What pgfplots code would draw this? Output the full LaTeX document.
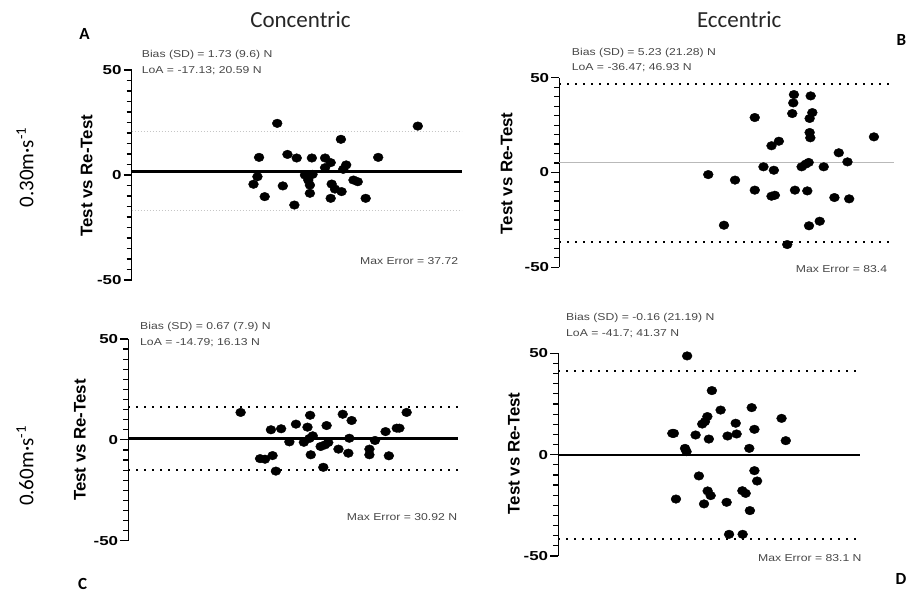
\documentclass[border=0pt]{standalone}
\usepackage{pgfplots}
\pgfplotsset{compat=1.18}
\usepackage{fontspec}
\setmainfont{Liberation Sans}
\newfontfamily\annotfam[FakeStretch=1.22]{Liberation Sans}
\newfontfamily\tickfam[FakeStretch=1.3]{Liberation Sans}
\newfontfamily\calfam{Carlito}
\newcommand{\annotfont}{\annotfam\fontsize{10bp}{12bp}\selectfont}
\newcommand{\tickfont}{\tickfam\bfseries\fontsize{13bp}{15bp}\selectfont}
\newcommand{\ylabfont}{\bfseries\fontsize{16.8bp}{19bp}\selectfont}
\newcommand{\headfont}{\calfam\fontsize{23bp}{26bp}\selectfont}
\newcommand{\rowfont}{\calfam\fontsize{21bp}{24bp}\selectfont}
\newcommand{\letfont}{\calfam\bfseries\fontsize{17bp}{19bp}\selectfont}

\pgfplotsset{
  bapanel/.style={
    scale only axis, clip=false,
    xmin=0, xmax=100, ymin=-50, ymax=50,
    axis x line=none, axis y line*=left,
    axis line style={line width=1.4bp, black, -},
    ytick={-50,0,50}, yticklabels={-50,0,50},
    minor ytick={-45,-40,...,45},
    tick align=outside,
    major tick length=8bp, minor tick length=5bp,
    every tick/.style={black, line width=1.2bp},
    yticklabel style={font=\tickfont, inner sep=2bp},
    /pgf/number format/assume math mode=true,
  },
  dots/.style={only marks, mark=*, mark size=4.3bp, mark options={fill=black, draw=black, xscale=1.15}},
  meanthick/.style={black, line width=2.6bp},
  meanthin/.style={gray!55, line width=1.3bp},
  loagray/.style={gray!45, line width=1bp, dash pattern=on 1bp off 2bp},
  loablack/.style={black, line width=2bp, dash pattern=on 2bp off 6bp},
}

\begin{document}
\begin{tikzpicture}
\path[use as bounding box] (0,0) rectangle (908bp,-594bp);

% Panel A
\begin{axis}[bapanel, at={(131.7bp,-280bp)}, anchor=south west, width=330bp, height=210bp]
\addplot[loagray] coordinates {(0,20.59) (100,20.59)};
\addplot[loagray] coordinates {(0,-17.13) (100,-17.13)};
\addplot[meanthick] coordinates {(0,1.73) (100,1.73)};
\addplot[dots] coordinates {
(44.1,24.6) (86.7,23.3) (63.4,17.0) (38.6,8.4) (47.2,9.8) (50.0,8.1)
(54.6,8.1) (58.6,8.1) (60.3,5.9) (58.6,3.5) (65.0,4.8) (64.1,2.7)
(74.7,8.4) (38.1,-0.8) (36.9,-4.4) (40.3,-10.3) (45.8,-5.2) (49.3,-14.3)
(52.5,0.0) (54.8,0.3) (54.0,-4.8) (54.0,-8.7) (60.6,-4.3) (61.6,-6.7)
(63.6,-7.9) (60.3,-11.1) (67.2,-2.4) (68.5,-3.2) (70.9,-11.1) (53.5,-2.4)
};
\end{axis}

% Panel B
\begin{axis}[bapanel, at={(559.3bp,-267.3bp)}, anchor=south west, width=334.7bp, height=189.6bp]
\addplot[loablack] coordinates {(0,46.93) (100,46.93)};
\addplot[loablack] coordinates {(0,-36.47) (100,-36.47)};
\addplot[meanthin] coordinates {(0,5.23) (100,5.23)};
\addplot[dots] coordinates {
(44.5,-1.1) (49.2,-27.8) (52.5,-4.0) (58.4,29.0) (58.4,-9.3) (61.0,3.0)
(63.4,14.1) (65.6,16.5) (64.1,1.2) (63.4,-12.5) (64.4,-12.0) (68.1,-38.0)
(70.1,41.1) (69.9,36.7) (69.6,31.1) (70.4,-9.3) (72.4,3.0) (73.6,4.4)
(74.5,5.3) (75.1,40.4) (75.6,31.6) (74.8,28.5) (74.8,21.1) (75.0,18.3)
(74.1,-9.7) (74.6,-28.1) (77.8,-25.7) (79.0,3.0) (82.2,-13.2) (83.5,10.4)
(86.1,5.6) (86.6,-13.9) (94.0,18.8)
};
\end{axis}

% Panel C
\begin{axis}[bapanel, at={(128.3bp,-540.7bp)}, anchor=south west, width=329.4bp, height=201.7bp]
\addplot[loablack] coordinates {(0,16.13) (100,16.13)};
\addplot[loablack] coordinates {(0,-14.79) (100,-14.79)};
\addplot[meanthick] coordinates {(0,0.67) (100,0.67)};
\addplot[dots] coordinates {
(34.1,13.6) (40.0,-9.3) (41.5,-9.6) (43.8,-7.8) (43.3,5.0) (46.4,5.5)
(44.8,-15.5) (48.9,-1.0) (50.9,7.8) (53.3,-1.2) (54.4,6.3) (55.2,12.2)
(56.0,2.0) (55.0,0.7) (55.4,-7.4) (58.4,-3.3) (59.7,-2.5) (60.7,-1.3)
(60.2,7.1) (59.2,-13.6) (63.8,-4.6) (65.1,12.7) (67.8,9.6) (67.1,0.8)
(66.8,-6.6) (73.2,-4.6) (73.2,-7.4) (74.9,-0.3) (78.1,4.1) (79.1,-7.9)
(81.5,5.8) (82.3,5.8) (84.5,13.6)
};
\end{axis}

% Panel D
\begin{axis}[bapanel, at={(558.3bp,-556bp)}, anchor=south west, width=301.7bp, height=202.7bp]
\addplot[loablack] coordinates {(0,41.37) (100,41.37)};
\addplot[loablack] coordinates {(0,-41.7) (100,-41.7)};
\addplot[meanthick] coordinates {(0,-0.16) (100,-0.16)};
\addplot[dots] coordinates {
(37.8,10.5) (38.3,10.5) (39.0,-21.9) (42.0,3.1) (42.5,1.5) (42.7,48.7)
(45.5,9.7) (46.6,-10.5) (47.7,15.1) (48.6,16.3) (49.4,18.8) (49.9,7.7)
(49.5,-17.9) (50.5,-20.2) (48.3,-24.3) (50.9,31.6) (53.8,22.0) (55.8,-23.5)
(56.1,9.2) (56.6,-39.3) (58.8,15.5) (59.1,10.2) (61.0,-17.8) (62.1,-19.1)
(61.1,-39.3) (63.3,3.1) (63.5,-27.6) (64.1,23.2) (65.0,12.5) (65.0,-7.9)
(65.9,-13.0) (74.0,17.9) (75.4,6.9)
};
\end{axis}

% Y labels
\node[rotate=90, font=\ylabfont] at (86.7bp,-175.7bp) {Test vs Re-Test};
\node[rotate=90, font=\ylabfont] at (506.7bp,-173.3bp) {Test vs Re-Test};
\node[rotate=90, font=\ylabfont] at (80bp,-440bp) {Test vs Re-Test};
\node[rotate=90, font=\ylabfont] at (514bp,-453.3bp) {Test vs Re-Test};

% Annotations
\begin{scope}[every node/.style={inner sep=0pt, text=black!72, font=\annotfont}]
\node[anchor=west] at (141.7bp,-55bp) {Bias (SD) = 1.73 (9.6) N};
\node[anchor=west] at (141.7bp,-71bp) {LoA = -17.13; 20.59 N};
\node[anchor=east] at (458.3bp,-261bp) {Max Error = 37.72};

\node[anchor=west] at (571.7bp,-53.3bp) {Bias (SD) = 5.23 (21.28) N};
\node[anchor=west] at (571.7bp,-67.7bp) {LoA = -36.47; 46.93 N};
\node[anchor=east] at (887.3bp,-269bp) {Max Error = 83.4};

\node[anchor=west] at (140bp,-327.3bp) {Bias (SD) = 0.67 (7.9) N};
\node[anchor=west] at (140bp,-342.3bp) {LoA = -14.79; 16.13 N};
\node[anchor=east] at (457.3bp,-516.7bp) {Max Error = 30.92 N};

\node[anchor=west] at (566bp,-318.3bp) {Bias (SD) = -0.16 (21.19) N};
\node[anchor=west] at (566bp,-334bp) {LoA = -41.7; 41.37 N};
\node[anchor=east] at (861.7bp,-557.7bp) {Max Error = 83.1 N};
\end{scope}

% Headings and row labels
\node[font=\headfont, text=black!85, anchor=base] at (300.4bp,-27.7bp) {Concentric};
\node[font=\headfont, text=black!85, anchor=base] at (739.2bp,-27.7bp) {Eccentric};
\node[font=\rowfont, rotate=90] at (25bp,-167.5bp) {0.30m·s\textsuperscript{-1}};
\node[font=\rowfont, rotate=90] at (25bp,-466bp) {0.60m·s\textsuperscript{-1}};

% Panel letters
\node[font=\letfont] at (84.5bp,-33.5bp) {A};
\node[font=\letfont] at (901.5bp,-40bp) {B};
\node[font=\letfont] at (82.5bp,-583.5bp) {C};
\node[font=\letfont] at (901bp,-579bp) {D};
\end{tikzpicture}
\end{document}
